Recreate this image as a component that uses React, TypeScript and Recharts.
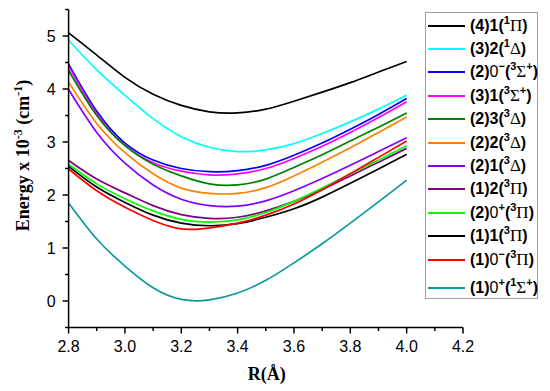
import React from "react"
import { LineChart, Line, XAxis, YAxis, Legend } from "recharts"

// ── Data ──────────────────────────────────────────────────────────────────────

const R = [2.8, 2.9, 3.0, 3.1, 3.2, 3.3, 3.4, 3.5, 3.6, 3.7, 3.8, 3.9, 4.0]

const pi4_1    = [5.06, 4.64, 4.22, 3.90, 3.69, 3.57, 3.55, 3.62, 3.77, 3.94, 4.12, 4.32, 4.52]
const delta3_2 = [4.92, 4.36, 3.88, 3.44, 3.10, 2.90, 2.82, 2.85, 2.97, 3.16, 3.38, 3.62, 3.88]
const sig2_0m  = [4.47, 3.58, 2.98, 2.66, 2.50, 2.44, 2.46, 2.56, 2.75, 2.98, 3.24, 3.52, 3.82]
const sig3_1   = [4.43, 3.53, 2.94, 2.61, 2.45, 2.38, 2.40, 2.50, 2.69, 2.92, 3.18, 3.46, 3.76]
const delta2_3 = [4.35, 3.50, 2.93, 2.58, 2.36, 2.21, 2.19, 2.30, 2.52, 2.76, 3.02, 3.28, 3.55]
const delta2_2 = [4.13, 3.35, 2.80, 2.40, 2.13, 2.03, 2.03, 2.14, 2.36, 2.62, 2.89, 3.18, 3.47]
const delta2_1 = [3.99, 3.18, 2.60, 2.19, 1.92, 1.80, 1.79, 1.89, 2.08, 2.31, 2.56, 2.82, 3.08]
const pi1_2    = [2.65, 2.30, 2.04, 1.80, 1.63, 1.56, 1.58, 1.70, 1.88, 2.10, 2.36, 2.62, 2.88]
const pi2_0p   = [2.58, 2.21, 1.93, 1.70, 1.54, 1.49, 1.53, 1.67, 1.88, 2.13, 2.40, 2.66, 2.93]
const pi1_1    = [2.54, 2.15, 1.86, 1.62, 1.47, 1.42, 1.46, 1.58, 1.74, 1.96, 2.22, 2.49, 2.77]
const pi1_0m   = [2.49, 2.08, 1.77, 1.52, 1.36, 1.38, 1.47, 1.62, 1.83, 2.10, 2.40, 2.71, 3.02]
const sig1_0p  = [1.85, 1.17, 0.66, 0.25, 0.03, 0.02, 0.15, 0.39, 0.72, 1.08, 1.47, 1.87, 2.28]

// legend markup: ^x = superscript char
const names = [
  "(4)1(^1Π)", "(3)2(^1Δ)", "(2)0^−(^3Σ^+)", "(3)1(^3Σ^+)", "(2)3(^3Δ)", "(2)2(^3Δ)",
  "(2)1(^3Δ)", "(1)2(^3Π)", "(2)0^+(^3Π)", "(1)1(^3Π)", "(1)0^−(^3Π)", "(1)0^+(^1Σ^+)",
]
const colors = [
  "#000000", "#00ffff", "#0000ff", "#ff00ff", "#008000", "#ff8000",
  "#8000ff", "#800080", "#00ff00", "#000000", "#ff0000", "#0e9999",
]
const series = [
  pi4_1, delta3_2, sig2_0m, sig3_1, delta2_3, delta2_2,
  delta2_1, pi1_2, pi2_0p, pi1_1, pi1_0m, sig1_0p,
]

const xTicks = [2.8, 2.9, 3.0, 3.1, 3.2, 3.3, 3.4, 3.5, 3.6, 3.7, 3.8, 3.9, 4.0, 4.1, 4.2]
const yTicks = [-0.5, 0, 0.5, 1, 1.5, 2, 2.5, 3, 3.5, 4, 4.5, 5, 5.5]

const rows = R.map((r, i) => {
  const row: Record<string, number> = { r }
  series.forEach((s, k) => { row["s" + k] = s[i] })
  return row
})

const SANS = "'Liberation Sans', Arial, sans-serif"
const SERIF = "'Liberation Serif', 'Times New Roman', serif"

// ── Ticks: tick mark + label drawn together ──────────────────────────────────

function XTick({ x, y, payload }: any) {
  const major = Math.round(payload.value * 10) % 2 === 0
  const len = major ? 6 : 3.5
  return (
    <g>
      <line x1={x} y1={y} x2={x} y2={y + len} stroke="#000" strokeWidth={1.5} />
      {major && (
        <text x={x} y={y + 24} textAnchor="middle" fontFamily={SANS} fontSize={16} fill="#000">
          {payload.value.toFixed(1)}
        </text>
      )}
    </g>
  )
}

function YTick({ x, y, payload }: any) {
  const major = Number.isInteger(payload.value)
  const len = major ? 6 : 3.5
  return (
    <g>
      <line x1={x} y1={y} x2={x - len} y2={y} stroke="#000" strokeWidth={1.5} />
      {major && (
        <text x={x - 13} y={y} dy="0.36em" textAnchor="end" fontFamily={SANS} fontSize={16} fill="#000">
          {payload.value}
        </text>
      )}
    </g>
  )
}

// ── Axis titles ───────────────────────────────────────────────────────────────

function YTitle({ viewBox }: any) {
  const x = viewBox.x + 29
  const y = viewBox.y + viewBox.height / 2 - 13
  return (
    <text x={x} y={y} transform={`rotate(-90, ${x}, ${y})`} textAnchor="middle"
      fontFamily={SERIF} fontWeight="bold" fontSize={18} fill="#000">
      Energy x 10<tspan dy={-7} fontSize={12}>-3</tspan>
      <tspan dy={7}> (cm</tspan>
      <tspan dy={-7} fontSize={12}>-1</tspan>
      <tspan dy={7}>)</tspan>
    </text>
  )
}

function XTitle({ viewBox }: any) {
  return (
    <text x={viewBox.x + viewBox.width / 2 + 1} y={viewBox.y + 52.5} textAnchor="middle"
      fontFamily={SERIF} fontWeight="bold" fontSize={18} fill="#000">
      R(Å)
    </text>
  )
}

// ── Legend ────────────────────────────────────────────────────────────────────

function LegendName({ text }: { text: string }) {
  const parts: React.ReactNode[] = []
  for (let i = 0; i < text.length; i++) {
    const c = text[i]
    if (c === "^") {
      parts.push(<sup key={i} style={{ fontSize: 11, verticalAlign: "7px", lineHeight: 0 }}>{text[i + 1]}</sup>)
      i++
    } else if ("ΠΔΣ".includes(c)) {
      parts.push(<span key={i} style={{ fontFamily: SERIF, fontWeight: "normal", fontSize: 17 }}>{c}</span>)
    } else if (c === "0" && text[i + 1] === "^") {
      parts.push(<span key={i} style={{ fontWeight: "normal" }}>{c}</span>)
    } else {
      parts.push(<span key={i}>{c}</span>)
    }
  }
  return <>{parts}</>
}

function LegendBox() {
  return (
    <div style={{
      width: 111, height: 284, border: "1px solid #a0a0a0", background: "#fff",
      boxSizing: "content-box", paddingTop: 1,
    }}>
      {names.map((n, i) => (
        <div key={i} style={{
          display: "flex", alignItems: "center", height: 23.4,
          marginTop: i === names.length - 1 ? 5.5 : 0,
        }}>
          <div style={{ width: 37, height: 0, borderTop: `2px solid ${colors[i]}`, marginLeft: 2, marginRight: 5, flexShrink: 0 }} />
          <div style={{ fontFamily: SANS, fontWeight: "bold", fontSize: 16, color: "#000", whiteSpace: "nowrap" }}>
            <LegendName text={n} />
          </div>
        </div>
      ))}
    </div>
  )
}

// ── Chart ─────────────────────────────────────────────────────────────────────

export default function App() {
  return (
    <div style={{ position: "absolute", left: 0, top: 0, width: 550, height: 391, background: "#fff" }}>
      <LineChart width={550} height={391} data={rows} margin={{ top: 9.5, right: 87, left: 0, bottom: 0 }}>
        <XAxis
          dataKey="r" type="number" domain={[2.8, 4.2]} ticks={xTicks} interval={0}
          height={63.5} tickSize={0} tickMargin={0} tickLine={false}
          axisLine={{ stroke: "#000", strokeWidth: 1.5 }}
          tick={<XTick />} label={<XTitle />}
        />
        <YAxis
          type="number" domain={[-0.5, 5.5]} ticks={yTicks} interval={0}
          width={68.6} tickSize={0} tickMargin={0} tickLine={false}
          axisLine={{ stroke: "#000", strokeWidth: 1.5 }}
          tick={<YTick />} label={<YTitle />}
        />
        {series.map((_, k) => (
          <Line
            key={k} dataKey={"s" + k} name={names[k]} type="natural"
            stroke={colors[k]} strokeWidth={1.7} dot={false} isAnimationActive={false}
          />
        ))}
        <Legend
          layout="vertical" align="center" verticalAlign="middle"
          wrapperStyle={{ left: 425, top: 12, width: 113, height: 286 }}
          content={() => <LegendBox />}
        />
      </LineChart>
    </div>
  )
}
